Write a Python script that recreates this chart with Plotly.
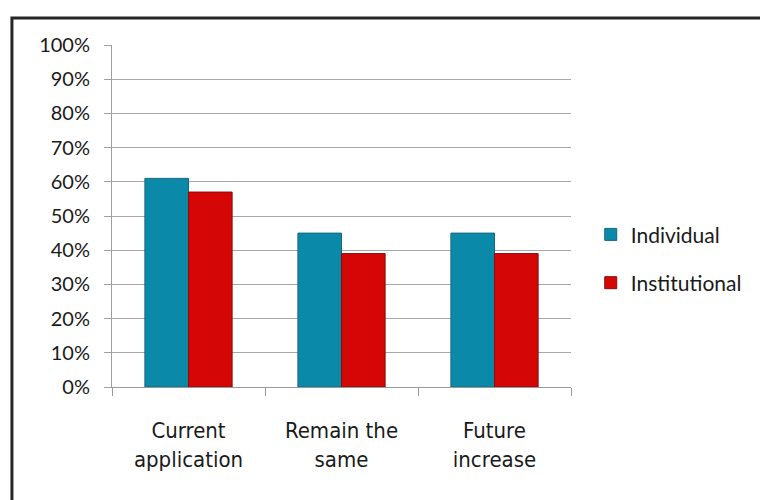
import plotly.graph_objects as go

categories = ["Current<br>application", "Remain the<br>same", "Future<br>increase"]
individual = [0.61, 0.45, 0.45]
institutional = [0.57, 0.39, 0.39]
y_ticks = [i / 10 for i in range(11)]
y_tick_labels = [f"{i * 10}%" for i in range(11)]

fig = go.Figure()
fig.add_trace(go.Bar(
    x=categories, y=individual, name="Individual", legendgroup="a",
    marker=dict(color="#0a8aa8", line=dict(color="#16687a", width=1)),
))
fig.add_trace(go.Bar(
    x=categories, y=institutional, name="Institutional", legendgroup="b",
    marker=dict(color="#d40606", line=dict(color="#8c0a0a", width=1)),
))

fig.update_layout(
    width=760, height=500,
    margin=dict(l=112, r=189, t=45, b=113, autoexpand=False),
    paper_bgcolor="white", plot_bgcolor="white",
    barmode="group", bargap=0.43, bargroupgap=0,
    font=dict(family="Lato, sans-serif", color="#1a1a1a"),
    showlegend=True,
    legend=dict(
        x=1.043, y=0.375, xanchor="left", yanchor="middle",
        font=dict(size=21, family="Lato, sans-serif"),
        tracegroupgap=18, traceorder="grouped",
        bgcolor="rgba(0,0,0,0)", itemwidth=30,
    ),
    xaxis=dict(
        type="category", tickson="boundaries",
        ticks="outside", ticklen=8, tickcolor="#9a9a9a",
        showline=True, linecolor="#9a9a9a", linewidth=1,
        showgrid=False,
        tickfont=dict(size=22, family="DejaVu Sans Condensed, Liberation Sans Narrow, sans-serif"),
        ticklabelstandoff=24,
    ),
    yaxis=dict(
        range=[0, 1], tickvals=y_ticks, ticktext=y_tick_labels,
        ticks="outside", ticklen=7, tickcolor="#a0a0a0",
        showgrid=True, gridcolor="#a8a8a8", gridwidth=1,
        showline=True, linecolor="#a0a0a0", linewidth=1,
        zeroline=False,
        tickfont=dict(size=20, family="Lato, sans-serif"),
        ticklabelstandoff=10,
    ),
    shapes=[dict(
        type="rect", xref="paper", yref="paper",
        x0=-0.218, x1=1.43, y0=-0.36, y1=1.079,
        line=dict(color="#262626", width=3), fillcolor="rgba(0,0,0,0)",
        layer="below",
    )],
)

fig.write_html("out.html")
